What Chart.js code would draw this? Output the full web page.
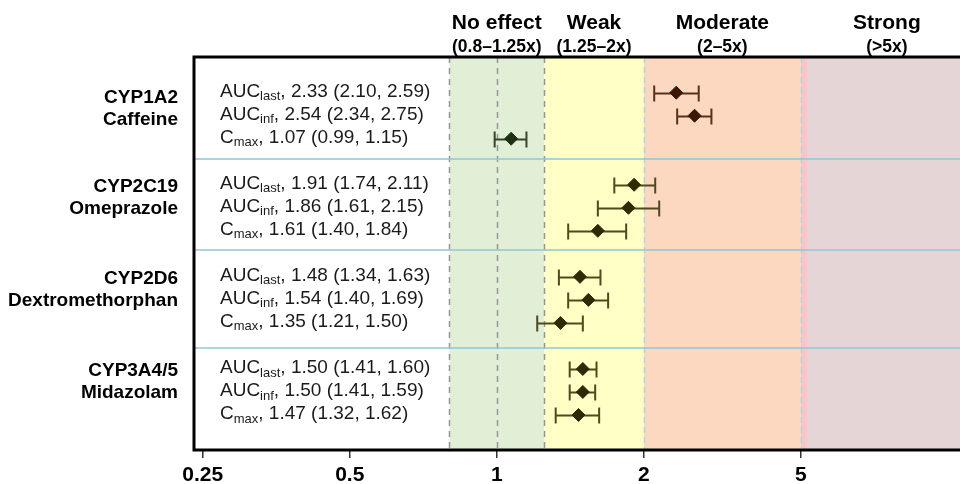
<!DOCTYPE html>
<html>
<head>
<meta charset="utf-8">
<script src="https://cdn.jsdelivr.net/npm/chart.js@4/dist/chart.umd.min.js"></script>
<style>
  html, body { margin: 0; padding: 0; background: #ffffff; overflow: hidden; }
  #wrap { position: relative; width: 990px; height: 484px; }
</style>
</head>
<body>
<div id="wrap"><canvas id="c"></canvas></div>
<script>
// ---- data ----
const enzymes = ['CYP1A2', 'CYP2C19', 'CYP2D6', 'CYP3A4/5'];
const substrates = ['Caffeine', 'Omeprazole', 'Dextromethorphan', 'Midazolam'];
const paramMain = ['AUC', 'AUC', 'C'];
const paramSub = ['last', 'inf', 'max'];
const gmr   = [2.33, 2.54, 1.07, 1.91, 1.86, 1.61, 1.48, 1.54, 1.35, 1.50, 1.50, 1.47];
const lower = [2.10, 2.34, 0.99, 1.74, 1.61, 1.40, 1.34, 1.40, 1.21, 1.41, 1.41, 1.32];
const upper = [2.59, 2.75, 1.15, 2.11, 2.15, 1.84, 1.63, 1.69, 1.50, 1.60, 1.59, 1.62];
const tickValues = [0.25, 0.5, 1, 2, 5];
const tickLabels = ['0.25', '0.5', '1', '2', '5'];
const zoneNames  = ['No effect', 'Weak', 'Moderate', 'Strong'];
const zoneRanges = ['(0.8\u20131.25x)', '(1.25\u20132x)', '(2\u20135x)', '(>5x)'];
const zoneEdges  = [0.8, 1.25, 2, 5];

// ---- axis transform (log2, compressed above 3 as in the source figure) ----
const L3 = Math.log2(3);
function axisPos(v) {
  const l = Math.log2(v);
  return v <= 3 ? l : L3 + 0.655 * (l - L3);
}
const rowIndex = i => Math.floor(i / 3) * 4 + (i % 3);
const fmt = v => v.toFixed(2);

// ---- styles ----
const FONT = "'Liberation Sans', Arial, Helvetica, sans-serif";
const markerColors = gmr.map((v, i) => i < 2 ? '#3a1706' : (i === 2 ? '#1f3016' : '#2f2a06'));
const barColors = gmr.map((v, i) => i < 2 ? '#5b2f1c' : (i === 2 ? '#37452a' : '#4f4a1d'));

const points = gmr.map((v, i) => ({ x: axisPos(v), y: rowIndex(i) }));

const decorPlugin = {
  id: 'decor',
  beforeDatasetsDraw(chart) {
    const { ctx, chartArea: a, scales: { x, y } } = chart;
    const px = v => x.getPixelForValue(axisPos(v));
    const H = a.bottom - a.top;
    ctx.save();
    const fill = (x0, x1, c) => { ctx.fillStyle = c; ctx.fillRect(x0, a.top, x1 - x0, H); };
    fill(px(zoneEdges[0]), px(zoneEdges[1]), '#e1efd7');
    fill(px(zoneEdges[1]), px(zoneEdges[2]), '#ffffc6');
    fill(px(zoneEdges[2]), px(zoneEdges[3]), '#fdd8c0');
    fill(px(zoneEdges[3]), a.right, '#e6d5d6');
    fill(px(zoneEdges[3]), px(zoneEdges[3]) + 6, '#fcc4c7');

    // dashed reference lines
    ctx.lineWidth = 1.5;
    ctx.setLineDash([6, 5]);
    ctx.strokeStyle = '#959595';
    [0.8, 1, 1.25].forEach(v => {
      const p = Math.round(px(v)) + 0.5;
      ctx.beginPath(); ctx.moveTo(p, a.top); ctx.lineTo(p, a.bottom); ctx.stroke();
    });
    ctx.strokeStyle = '#a9d8e4';
    ctx.setLineDash([6, 4]);
    [2, 5].forEach(v => {
      const p = Math.round(px(v)) + 0.5;
      ctx.beginPath(); ctx.moveTo(p, a.top); ctx.lineTo(p, a.bottom); ctx.stroke();
    });
    ctx.setLineDash([]);

    // group separators
    ctx.strokeStyle = 'rgba(140,200,215,0.75)';
    ctx.lineWidth = 2;
    [2.88, 6.83, 11.1].forEach(r => {
      const p = Math.round(y.getPixelForValue(r));
      ctx.beginPath(); ctx.moveTo(a.left, p); ctx.lineTo(a.right, p); ctx.stroke();
    });

    // row labels
    ctx.fillStyle = '#1a1a1a';
    ctx.textBaseline = 'middle';
    ctx.textAlign = 'left';
    gmr.forEach((v, i) => {
      const yy = y.getPixelForValue(rowIndex(i)) - 1;
      let xx = 220;
      const m = i % 3;
      ctx.font = '19px ' + FONT;
      ctx.fillText(paramMain[m], xx, yy);
      xx += ctx.measureText(paramMain[m]).width;
      ctx.font = '13px ' + FONT;
      ctx.fillText(paramSub[m], xx, yy + 5);
      xx += ctx.measureText(paramSub[m]).width;
      ctx.font = '19px ' + FONT;
      ctx.fillText(', ' + fmt(v) + ' (' + fmt(lower[i]) + ', ' + fmt(upper[i]) + ')', xx, yy);
    });

    // error bars
    ctx.lineWidth = 2;
    gmr.forEach((v, i) => {
      const yy = Math.round(y.getPixelForValue(rowIndex(i))) + 0.5;
      const x0 = px(lower[i]), x1 = px(upper[i]);
      ctx.strokeStyle = barColors[i];
      ctx.beginPath();
      ctx.moveTo(x0, yy); ctx.lineTo(x1, yy);
      ctx.moveTo(x0, yy - 8); ctx.lineTo(x0, yy + 8);
      ctx.moveTo(x1, yy - 8); ctx.lineTo(x1, yy + 8);
      ctx.stroke();
    });
    ctx.restore();
  },
  afterDraw(chart) {
    const { ctx, chartArea: a, scales: { x, y } } = chart;
    const px = v => x.getPixelForValue(axisPos(v));
    ctx.save();
    // frame
    ctx.strokeStyle = '#000';
    ctx.lineWidth = 3;
    ctx.strokeRect(a.left, a.top, a.right - a.left, a.bottom - a.top);

    // zone headers
    const centers = [
      px(1),
      (px(zoneEdges[1]) + px(zoneEdges[2])) / 2,
      (px(zoneEdges[2]) + px(zoneEdges[3])) / 2,
      (px(zoneEdges[3]) + a.right) / 2
    ];
    ctx.fillStyle = '#000';
    ctx.textAlign = 'center';
    ctx.textBaseline = 'alphabetic';
    centers.forEach((c, k) => {
      ctx.font = 'bold 21px ' + FONT;
      ctx.fillText(zoneNames[k], c, 29);
      ctx.font = 'bold 17.5px ' + FONT;
      ctx.fillText(zoneRanges[k], c, 52);
    });

    // group labels
    ctx.textAlign = 'right';
    ctx.textBaseline = 'middle';
    ctx.font = 'bold 19px ' + FONT;
    enzymes.forEach((e, g) => {
      const y0 = y.getPixelForValue(g * 4);
      const off = g === 0 ? 5 : 2;
      ctx.fillText(e, 178, y0 + off);
      ctx.fillText(substrates[g], 178, y0 + off + 22);
    });
    ctx.restore();
  }
};

new Chart(document.getElementById('c'), {
  type: 'scatter',
  data: {
    datasets: [{
      data: points,
      pointStyle: 'rectRot',
      pointRadius: 6.5,
      pointHoverRadius: 6.5,
      pointBackgroundColor: markerColors,
      pointBorderColor: markerColors,
      pointBorderWidth: 1,
      showLine: false
    }]
  },
  options: {
    responsive: true,
    maintainAspectRatio: false,
    animation: false,
    layout: { padding: { left: 194, top: 57, right: 17, bottom: 0 } },
    plugins: { legend: { display: false }, tooltip: { enabled: false } },
    scales: {
      x: {
        type: 'linear',
        min: Math.log2(0.24),
        max: 3.238,
        afterBuildTicks: s => { s.ticks = tickValues.map(v => ({ value: axisPos(v) })); },
        afterFit: s => { s.height = 34; },
        ticks: {
          autoSkip: false,
          maxRotation: 0,
          padding: 7,
          color: '#000',
          font: { family: FONT, size: 21, weight: 'bold', lineHeight: 1 },
          callback: (val, idx) => tickLabels[idx]
        },
        grid: { drawOnChartArea: false, drawTicks: true, tickLength: 8, color: '#333', lineWidth: 1.5 },
        border: { display: false }
      },
      y: {
        type: 'linear',
        reverse: true,
        min: -1.55,
        max: 15.52,
        display: false
      }
    }
  },
  plugins: [decorPlugin]
});
</script>
</body>
</html>
